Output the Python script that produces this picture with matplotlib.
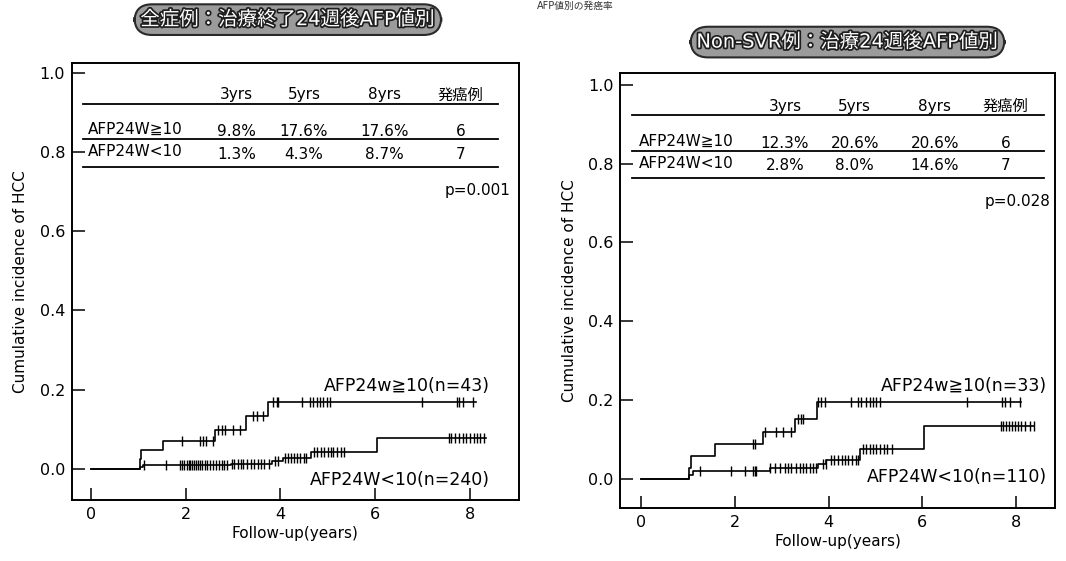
import numpy as np
import matplotlib
matplotlib.use("Agg")
import matplotlib.pyplot as plt
import matplotlib.patheffects as pe

plt.rcParams["font.family"] = ["DejaVu Sans", "Noto Sans CJK JP"]

# ---- data ----
# left panel: all cases, AFP 24 weeks after end of treatment
left_hi_event_t = [1.03, 1.06, 1.53, 2.62, 3.28, 3.73]
left_hi_event_v = [0.024, 0.047, 0.071, 0.098, 0.133, 0.170]
left_hi_end = 8.14
left_hi_censor = [1.92, 2.30, 2.36, 2.42, 2.57, 2.68, 2.76, 2.83, 3.00, 3.14,
                  3.42, 3.50, 3.63, 3.84, 3.92, 3.95, 4.45, 4.62, 4.68, 4.77,
                  4.83, 4.90, 4.98, 5.04, 6.98, 7.72, 7.78, 7.85, 8.06]

left_lo_event_t = [1.03, 1.10, 2.95, 3.82, 4.05, 4.65, 6.03]
left_lo_event_v = [0.004, 0.009, 0.013, 0.020, 0.028, 0.043, 0.078]
left_lo_end = 8.35
left_lo_censor = [1.12, 1.58, 1.88, 1.93, 1.97, 2.02, 2.07, 2.10, 2.14, 2.18,
                  2.22, 2.26, 2.30, 2.35, 2.40, 2.45, 2.52, 2.58, 2.64, 2.70,
                  2.76, 2.82, 2.88, 2.98, 3.02, 3.10, 3.16, 3.22, 3.30, 3.38,
                  3.45, 3.52, 3.60, 3.66, 3.75, 3.88, 3.95, 4.10, 4.16, 4.22,
                  4.28, 4.35, 4.42, 4.50, 4.55, 4.72, 4.78, 4.85, 4.92, 5.00,
                  5.06, 5.12, 5.20, 5.28, 5.35, 7.55, 7.60, 7.68, 7.78, 7.85,
                  7.92, 8.00, 8.08, 8.15, 8.22, 8.30]

# right panel: Non-SVR cases, AFP 24 weeks after treatment
right_hi_event_t = [1.02, 1.05, 1.57, 2.60, 3.28, 3.75]
right_hi_event_v = [0.028, 0.058, 0.088, 0.118, 0.152, 0.195]
right_hi_end = 8.12
right_hi_censor = [2.39, 2.43, 2.64, 2.88, 3.03, 3.20, 3.35, 3.41, 3.45, 3.77,
                   3.84, 3.92, 4.48, 4.63, 4.69, 4.80, 4.88, 4.95, 5.01, 5.10,
                   6.97, 7.72, 7.78, 7.87, 8.10]

right_lo_event_t = [1.02, 1.10, 2.75, 3.78, 3.95, 4.68, 6.05]
right_lo_event_v = [0.009, 0.018, 0.026, 0.036, 0.048, 0.076, 0.133]
right_lo_end = 8.40
right_lo_censor = [1.26, 1.92, 2.22, 2.39, 2.43, 2.45, 2.75, 2.86, 2.96, 3.07,
                   3.13, 3.20, 3.31, 3.39, 3.45, 3.52, 3.60, 3.67, 3.73, 3.88,
                   3.94, 4.05, 4.12, 4.20, 4.28, 4.35, 4.42, 4.50, 4.58, 4.62,
                   4.73, 4.80, 4.88, 4.95, 5.02, 5.10, 5.18, 5.26, 5.35, 7.68,
                   7.74, 7.80, 7.86, 7.92, 7.98, 8.05, 8.12, 8.20, 8.30, 8.40]

table_header = ["3yrs", "5yrs", "8yrs", "発癌例"]
table_rows = ["AFP24W≧10", "AFP24W<10"]
left_table = [["9.8%", "17.6%", "17.6%", "6"], ["1.3%", "4.3%", "8.7%", "7"]]
right_table = [["12.3%", "20.6%", "20.6%", "6"], ["2.8%", "8.0%", "14.6%", "7"]]
left_p = "p=0.001"
right_p = "p=0.028"
left_labels = ["AFP24w≧10(n=43)", "AFP24W<10(n=240)"]
right_labels = ["AFP24w≧10(n=33)", "AFP24W<10(n=110)"]
left_title = "全症例：治療終了24週後AFP値別"
right_title = "Non-SVR例：治療24週後AFP値別"


def km_value(event_t, event_v, t):
    idx = np.searchsorted(np.asarray(event_t), np.asarray(t), side="right")
    vals = np.concatenate([[0.0], event_v])
    return vals[idx]


def draw_curve(ax, event_t, event_v, end, censor):
    xs = np.concatenate([[0.0], event_t, [end]])
    ys = np.concatenate([[0.0], event_v, [event_v[-1]]])
    ax.step(xs, ys, where="post", color="k", lw=1.2)
    ax.plot(censor, km_value(event_t, event_v, censor), ls="none",
            marker="|", ms=7, mew=1.0, color="k")


def draw_panel(ax, xlim, ylim, hi, lo, table, p_text, labels, col_x, line_x,
               p_x, lab_x, lab_y):
    ax.set_xlim(*xlim)
    ax.set_ylim(*ylim)
    for s in ax.spines.values():
        s.set_linewidth(1.4)
    ax.set_xticks([0, 2, 4, 6, 8])
    ax.set_yticks([0.0, 0.2, 0.4, 0.6, 0.8, 1.0])
    ax.set_yticklabels(["0.0", "0.2", "0.4", "0.6", "0.8", "1.0"])
    ax.tick_params(direction="in", length=9, width=1.1, labelsize=11.5, pad=5)
    ax.set_xlabel("Follow-up(years)", fontsize=11, labelpad=3)
    ax.set_ylabel("Cumulative incidence of HCC", fontsize=11, labelpad=8)

    draw_curve(ax, *hi)
    draw_curve(ax, *lo)

    # small results table
    for x, h in zip(col_x, table_header):
        ax.text(x, 0.944, h, ha="center", va="center", fontsize=11)
    for yl in [0.922, 0.832, 0.762]:
        ax.plot(line_x, [yl, yl], color="k", lw=1.3)
    for y, name, row in zip([0.857, 0.800], table_rows, table):
        ax.text(-0.06, y, name, ha="left", va="center", fontsize=11)
        for x, v in zip(col_x, row):
            ax.text(x, y - 0.006, v, ha="center", va="center", fontsize=11)
    ax.text(p_x, 0.704, p_text, ha="right", va="center", fontsize=11)

    ax.text(lab_x, lab_y[0], labels[0], ha="right", va="center", fontsize=12.5)
    ax.text(lab_x, lab_y[1], labels[1], ha="right", va="center", fontsize=12.5)


fig = plt.figure(figsize=(10.66, 5.61), dpi=100)
ax1 = fig.add_axes([0.0675, 0.109, 0.419, 0.779])
ax2 = fig.add_axes([0.582, 0.095, 0.408, 0.775])

draw_panel(ax1, (-0.4, 9.03), (-0.078, 1.025),
           (left_hi_event_t, left_hi_event_v, left_hi_end, left_hi_censor),
           (left_lo_event_t, left_lo_event_v, left_lo_end, left_lo_censor),
           left_table, left_p, left_labels,
           [3.08, 4.5, 6.2, 7.8], [-0.17, 8.6], 8.85, 8.42, [0.21, -0.028])
draw_panel(ax2, (-0.45, 8.85), (-0.074, 1.03),
           (right_hi_event_t, right_hi_event_v, right_hi_end, right_hi_censor),
           (right_lo_event_t, right_lo_event_v, right_lo_end, right_lo_censor),
           right_table, right_p, right_labels,
           [3.07, 4.56, 6.27, 7.78], [-0.2, 8.6], 8.75, 8.68, [0.235, 0.005])

# rounded title badges
stroke = [pe.withStroke(linewidth=2.5, foreground="#1e1e1e")]
for x, y, t in [(0.27, 0.965, left_title), (0.795, 0.925, right_title)]:
    fig.text(x, y, t, ha="center", va="center", fontsize=14, color="white",
             path_effects=stroke,
             bbox=dict(boxstyle="round,pad=0.3,rounding_size=0.9",
                       fc="#9b9b9b", ec="#2a2a2a", lw=1.5))

# small header at the top edge of the scan
fig.text(0.54, 0.999, "AFP値別の発癌率", ha="center", va="top", fontsize=7,
         color="#333333")

fig.savefig("out.png", dpi=100)
